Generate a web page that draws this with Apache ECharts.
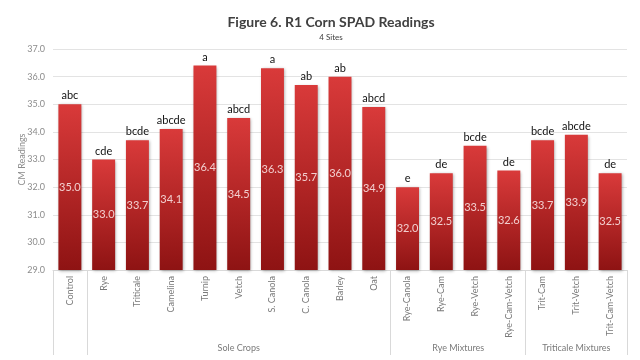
<!DOCTYPE html>
<html><head><meta charset="utf-8">
<script src="https://cdn.jsdelivr.net/npm/echarts@6/dist/echarts.min.js"></script>
<style>html,body{margin:0;padding:0;background:#fff}#c{width:640px;height:360px}</style>
</head><body><div id="c"></div>
<script>
const categories = ['Control','Rye','Triticale','Camelina','Turnip','Vetch','S. Canola','C. Canola','Barley','Oat','Rye-Canola','Rye-Cam','Rye-Vetch','Rye-Cam-Vetch','Trit-Cam','Trit-Vetch','Trit-Cam-Vetch'];
const values = [35.0,33.0,33.7,34.1,36.4,34.5,36.3,35.7,36.0,34.9,32.0,32.5,33.5,32.6,33.7,33.9,32.5];
const letters = ['abc','cde','bcde','abcde','a','abcd','a','ab','ab','abcd','e','de','bcde','de','bcde','abcde','de'];
const groupNames = ['Sole Crops','Rye Mixtures','Triticale Mixtures'];
const groupStart = [1,10,14];
const groupEnd = [10,14,17];
const yTicks = [29,30,31,32,33,34,35,36,37];

// half-category positions for group axis
const n = categories.length;
const halfSlots = [];
for (let j = 0; j <= 2*n; j++) halfSlots.push('');
const labelAt = {};
groupNames.forEach((g,i)=>{ labelAt[groupStart[i]+groupEnd[i]] = g; });
const tickAt = new Set([0]);
groupStart.forEach(s=>tickAt.add(2*s)); groupEnd.forEach(e=>tickAt.add(2*e));
const groupData = halfSlots.map((_,j)=> labelAt[j] || ('_'+j));

const FONT = 'Lato';
const chart = echarts.init(document.getElementById('c'));
chart.setOption({
  animation:false,
  textStyle:{fontFamily:FONT},
  title:{text:'Figure 6. R1 Corn SPAD Readings', subtext:'4 Sites', left:326, textAlign:'center', top:10, itemGap:4,
    textStyle:{fontSize:14, fontWeight:'bold', color:'#404040', fontFamily:FONT},
    subtextStyle:{fontSize:8, color:'#404040', fontFamily:FONT}},
  grid:{left:53, right:13, top:49, bottom:90},
  xAxis:[{
    type:'category', data:categories,
    axisLine:{lineStyle:{color:'#D9D9D9'}},
    axisTick:{show:false},
    axisLabel:{rotate:90, fontSize:9, color:'#7a7a7a', margin:6, interval:0}
  },{
    type:'category', data:groupData, position:'bottom', boundaryGap:false,
    axisLine:{show:false},
    axisTick:{show:true, length:85, lineStyle:{color:'#D9D9D9'}, interval:(i)=>tickAt.has(i)},
    axisLabel:{interval:0, margin:74, fontSize:9, color:'#7a7a7a', formatter:(v)=> v.charAt(0)==='_' ? '' : v}
  }],
  yAxis:{
    type:'value', min:yTicks[0], max:yTicks[yTicks.length-1], interval:1,
    name:'CM Readings', nameLocation:'middle', nameGap:26, nameMoveOverlap:false, nameTextStyle:{fontSize:9, color:'#8c8c8c'},
    axisLine:{show:false}, axisTick:{show:false},
    axisLabel:{fontSize:9, color:'#8c8c8c', formatter:(v)=>v.toFixed(1)},
    splitLine:{lineStyle:{color:'#E3E3E3'}}
  },
  series:[{
    type:'bar', data:values, barWidth:'68%', xAxisIndex:0,
    itemStyle:{color:new echarts.graphic.LinearGradient(0,0,0,1,[{offset:0,color:'#D93A3A'},{offset:1,color:'#8E1313'}]),
      shadowColor:'rgba(0,0,0,0.35)', shadowBlur:3, shadowOffsetX:1, shadowOffsetY:1},
    label:{show:true, position:'inside', color:'#F2CFCF', fontSize:11, formatter:(p)=>p.value.toFixed(1)}
  },{
    type:'bar', data:values, barWidth:'68%', barGap:'-100%', xAxisIndex:0, silent:true,
    itemStyle:{color:'rgba(0,0,0,0)'},
    label:{show:true, position:'top', distance:3, color:'#111', fontSize:11, formatter:(p)=>letters[p.dataIndex]}
  }]
});
</script></body></html>
